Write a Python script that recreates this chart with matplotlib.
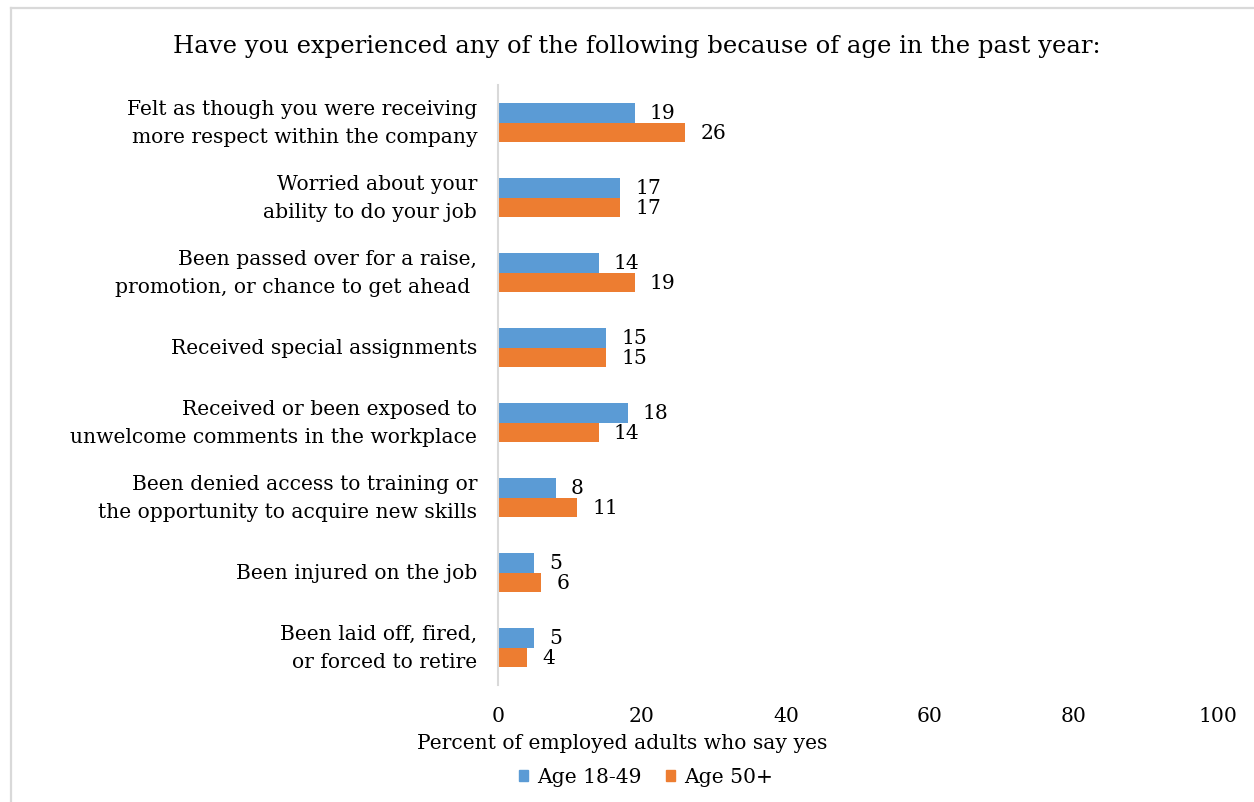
import matplotlib
matplotlib.use("Agg")
import matplotlib.pyplot as plt
from matplotlib.patches import Patch
from matplotlib.lines import Line2D
import numpy as np

categories = [
    "Felt as though you were receiving\nmore respect within the company",
    "Worried about your\nability to do your job",
    "Been passed over for a raise,\npromotion, or chance to get ahead ",
    "Received special assignments",
    "Received or been exposed to\nunwelcome comments in the workplace",
    "Been denied access to training or\nthe opportunity to acquire new skills",
    "Been injured on the job",
    "Been laid off, fired,\nor forced to retire",
]
age_18_49 = [19, 17, 14, 15, 18, 8, 5, 5]
age_50_plus = [26, 17, 19, 15, 14, 11, 6, 4]
series_names = ["Age 18-49", "Age 50+"]
x_ticks = [0, 20, 40, 60, 80, 100]

BLUE = "#5B9BD5"
ORANGE = "#ED7D31"
GRID = "#D9D9D9"
FONT = "DejaVu Serif"
FS = 14.6

plt.rcParams["font.family"] = FONT

W, H = 1254, 803
fig = plt.figure(figsize=(W / 100, H / 100), dpi=100)

# chart frame lines (top and left edge)
fig.add_artist(Line2D([11 / W, 11 / W], [0, 1 - 9 / H], color=GRID, lw=1.6))
fig.add_artist(Line2D([11 / W, 1], [1 - 9 / H, 1 - 9 / H], color=GRID, lw=1.6))

left, right, top, bottom = 498, 1218, 86, 686
ax = fig.add_axes([left / W, 1 - bottom / H, (right - left) / W, (bottom - top) / H])

y = np.arange(len(categories))
h = 0.26
ax.barh(y - h / 2, age_18_49, height=h, color=BLUE)
ax.barh(y + h / 2, age_50_plus, height=h, color=ORANGE)

for yi, v in zip(y - h / 2, age_18_49):
    ax.text(v + 2.1, yi, str(v), va="center", ha="left", fontsize=FS)
for yi, v in zip(y + h / 2, age_50_plus):
    ax.text(v + 2.1, yi, str(v), va="center", ha="left", fontsize=FS)

ax.set_xlim(0, 100)
ax.set_ylim(len(categories) - 0.5, -0.5)
ax.set_xticks(x_ticks)
ax.set_xticklabels([str(t) for t in x_ticks], fontsize=FS)
ax.set_yticks(y)
ax.set_yticklabels(categories, fontsize=FS, linespacing=1.55)
for lbl in ax.get_yticklabels():
    lbl.set_verticalalignment("center")
ax.tick_params(axis="both", length=0)
ax.tick_params(axis="y", pad=15)
ax.tick_params(axis="x", pad=15)
for s in ["top", "right", "bottom"]:
    ax.spines[s].set_visible(False)
ax.spines["left"].set_color(GRID)
ax.spines["left"].set_linewidth(1.5)

ax.set_xlabel("Percent of employed adults who say yes", fontsize=FS)
ax.xaxis.set_label_coords(-0.1125, -0.08, transform=ax.transAxes)
ax.xaxis.label.set_horizontalalignment("left")

fig.suptitle("Have you experienced any of the following because of age in the past year:",
             x=0.508, y=1 - 47 / H, va="center", fontsize=17.5)

handles = [Patch(color=BLUE), Patch(color=ORANGE)]
fig.legend(handles, series_names, loc="center", bbox_to_anchor=(646 / W, 1 - 778 / H),
           ncol=2, frameon=False, fontsize=FS, handlelength=0.45, handleheight=0.5,
           handletextpad=0.45, columnspacing=1.2)

fig.savefig("out.png", dpi=100)
